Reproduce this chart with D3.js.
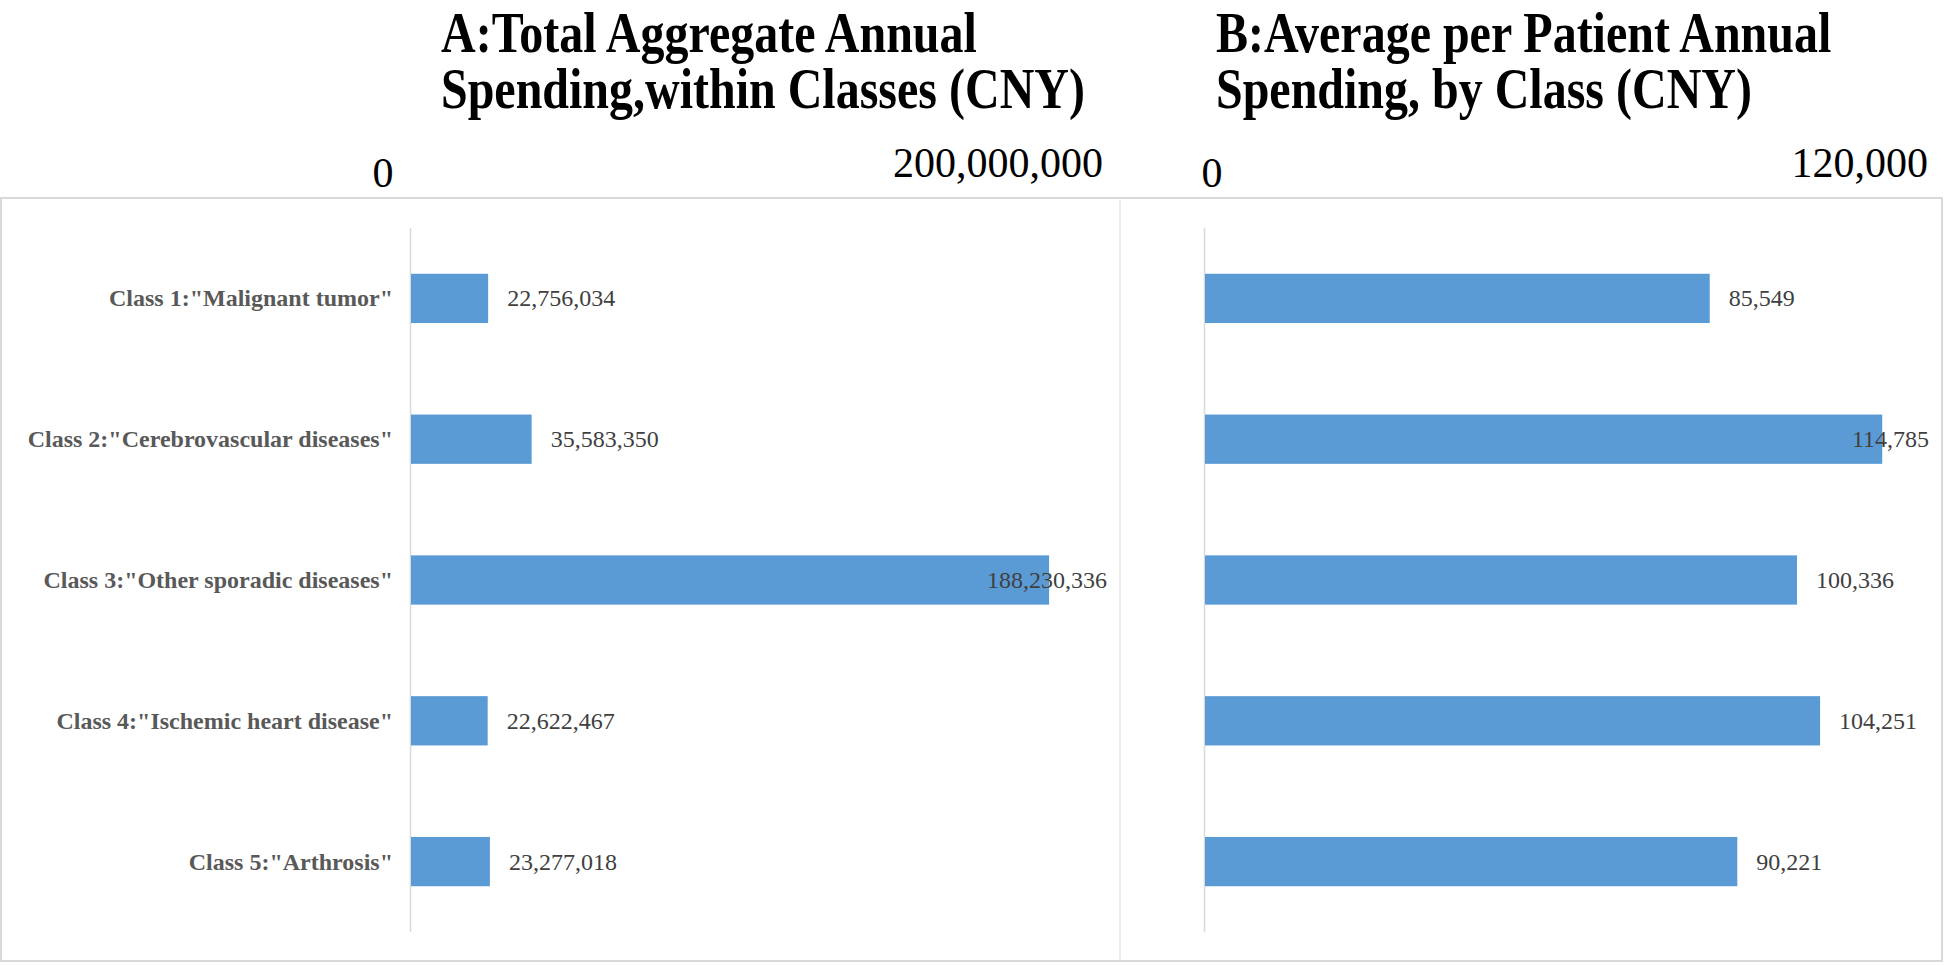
<!DOCTYPE html>
<html>
<head>
<meta charset="utf-8">
<script src="https://cdn.jsdelivr.net/npm/d3@7"></script>
<style>
  html, body { margin: 0; padding: 0; background: #ffffff; }
  svg { display: block; }
</style>
</head>
<body>
<svg id="chart" width="1944" height="966"></svg>
<script>
// ---------- data ----------
const categories = [
  'Class 1:"Malignant tumor"',
  'Class 2:"Cerebrovascular diseases"',
  'Class 3:"Other sporadic diseases"',
  'Class 4:"Ischemic heart disease"',
  'Class 5:"Arthrosis"'
];
const totalSpending = [22756034, 35583350, 188230336, 22622467, 23277018];
const perPatientSpending = [85549, 114785, 100336, 104251, 90221];
const ticksA = [0, 200000000];
const ticksB = [0, 120000];
const titleA = ["A:Total Aggregate Annual", "Spending,within Classes (CNY)"];
const titleB = ["B:Average per Patient Annual", "Spending, by Class (CNY)"];

// ---------- setup ----------
const svg = d3.select("#chart");
const serif = "'Liberation Serif', 'Times New Roman', serif";
const fmt = d3.format(",");
const barColor = "#5B9BD5";
const gridColor = "#D9D9D9";

// outer frame and divider
svg.append("rect").attr("x", 1).attr("y", 198).attr("width", 1941).attr("height", 763)
  .attr("fill", "none").attr("stroke", gridColor).attr("stroke-width", 2);
svg.append("line").attr("x1", 1120).attr("x2", 1120).attr("y1", 198).attr("y2", 961)
  .attr("stroke", "#E6E6E6").attr("stroke-width", 1.5);

const y = d3.scaleBand().domain(categories).range([228, 932]).paddingInner(0.65).paddingOuter(0.325);

const titleStretch = 1.2;
const titleBaselines = [52, 108];

function panel(opts) {
  const { values, ticks, x, tickX, title, titleX, labelLimit, showCats } = opts;
  const g = svg.append("g");

  // title (vertically stretched like the reference)
  const tg = g.append("g").attr("transform", `scale(1,${titleStretch})`);
  title.forEach((line, i) => {
    tg.append("text").attr("font-family", serif).attr("font-weight", "bold")
      .attr("font-size", 48).attr("fill", "#000")
      .attr("x", titleX).attr("y", titleBaselines[i] / titleStretch).text(line);
  });

  // tick labels (top)
  g.selectAll("text.tick").data(ticks).join("text")
    .attr("class", "tick")
    .attr("x", d => tickX(d))
    .attr("y", (d, i) => i === 0 ? 187 : 177)
    .attr("text-anchor", (d, i) => i === 0 ? "middle" : "end")
    .attr("font-family", serif).attr("font-size", 42).attr("fill", "#000")
    .text(d => fmt(d));

  // vertical axis line
  g.append("line").attr("x1", x(0) - 0.5).attr("x2", x(0) - 0.5)
    .attr("y1", y.range()[0]).attr("y2", y.range()[1])
    .attr("stroke", gridColor).attr("stroke-width", 1.5);

  // bars
  g.selectAll("rect.bar").data(values).join("rect")
    .attr("class", "bar")
    .attr("x", x(0))
    .attr("y", (d, i) => y(categories[i]))
    .attr("width", d => x(d) - x(0))
    .attr("height", y.bandwidth())
    .attr("fill", barColor);

  // value labels
  g.selectAll("text.val").data(values).join("text")
    .attr("class", "val")
    .attr("font-family", serif).attr("font-size", 24).attr("fill", "#404040")
    .attr("y", (d, i) => y(categories[i]) + y.bandwidth() / 2 + 8)
    .text(d => fmt(d))
    .each(function(d) {
      const w = this.getComputedTextLength();
      const px = Math.min(x(d) + 19, labelLimit - w);
      d3.select(this).attr("x", px);
    });

  // category labels
  if (showCats) {
    g.selectAll("text.cat").data(categories).join("text")
      .attr("class", "cat")
      .attr("x", x(0) - 18)
      .attr("y", d => y(d) + y.bandwidth() / 2 + 8)
      .attr("text-anchor", "end")
      .attr("font-family", serif).attr("font-weight", "bold")
      .attr("font-size", 24).attr("fill", "#595959")
      .text(d => d);
  }
}

panel({
  values: totalSpending,
  ticks: ticksA,
  x: d3.scaleLinear().domain([0, 200000000]).range([411, 1089]),
  tickX: d3.scaleLinear().domain([0, 200000000]).range([383, 1103]),
  title: titleA,
  titleX: 441,
  labelLimit: 1107,
  showCats: true
});

panel({
  values: perPatientSpending,
  ticks: ticksB,
  x: d3.scaleLinear().domain([0, 120000]).range([1205, 1913]),
  tickX: d3.scaleLinear().domain([0, 120000]).range([1212, 1928]),
  title: titleB,
  titleX: 1216,
  labelLimit: 1929,
  showCats: false
});
</script>
</body>
</html>
